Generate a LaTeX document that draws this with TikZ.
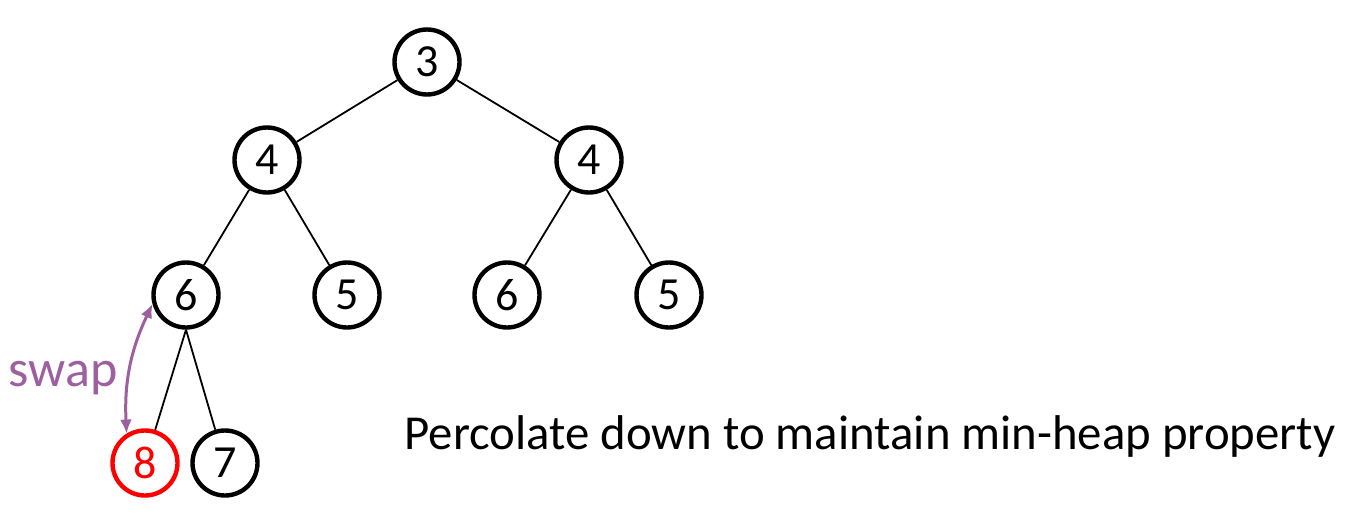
\documentclass[tikz,border=0pt]{standalone}
\usepackage{fontspec}
\setmainfont{Carlito}
\usetikzlibrary{arrows.meta}
\definecolor{swapcol}{RGB}{158,95,160}
\tikzstyle{key}=[circle, draw, line width=2.2pt, minimum size=32.5pt, inner sep=0pt, font=\fontsize{23}{25}\selectfont]
\tikzstyle{bad}=[key, draw=red, text=red]
\tikzstyle{link}=[line width=0.9pt]
\tikzstyle{swaparrow}=[line width=1.5pt, color=swapcol, {Latex[length=7pt,width=6pt]}-{Latex[length=7pt,width=6pt]}]

\begin{document}
\begin{tikzpicture}[x=0.5pt, y=-0.5pt]
    \useasboundingbox (0,0) rectangle (1358,514);

    % heap nodes, one row at a time
    \node[key] (n3) at (427,62) {3};
    \node[key] (n4a) at (267,160) {4};
    \node[key] (n4b) at (589,160) {4};
    \node[key] (n6a) at (186,295) {6};
    \node[key] (n5a) at (347,295) {5};
    \node[key] (n6b) at (507,295) {6};
    \node[key] (n5b) at (669,295) {5};
    \node[bad] (n8) at (145,463) {8};
    \node[key] (n7) at (225,463) {7};

    % tree edges
    \draw[link] (n3) -- (n4a);
    \draw[link] (n3) -- (n4b);
    \draw[link] (n4a) -- (n6a);
    \draw[link] (n4a) -- (n5a);
    \draw[link] (n4b) -- (n6b);
    \draw[link] (n4b) -- (n5b);
    \draw[link] (n6a.south) -- (n8);
    \draw[link] (n6a.south) -- (n7);

    % swap arrow between 8 and 6
    \draw[swaparrow] (n8.122) to[bend left=14] (n6a.195);
    \node[text=swapcol, font=\fontsize{26}{28}\selectfont] (swp) at (63,378) {swap};

    \node[font=\fontsize{24.4}{27}\selectfont] (cap) at (870,436) {Percolate down to maintain min-heap property};
\end{tikzpicture}
\end{document}
